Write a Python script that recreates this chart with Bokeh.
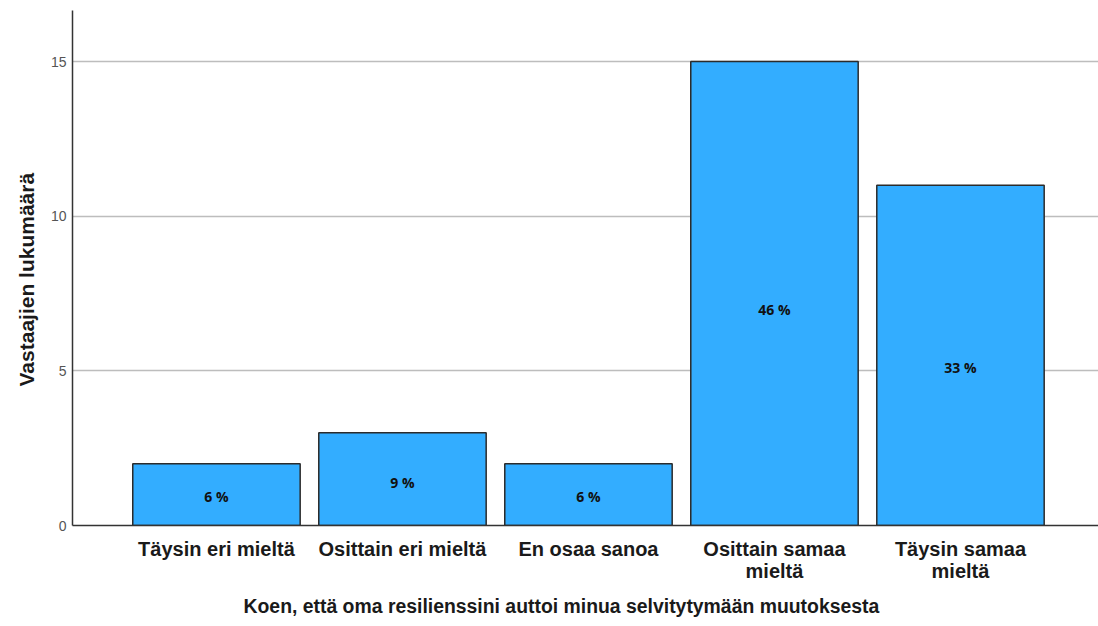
from bokeh.plotting import figure
from bokeh.models import ColumnDataSource, Range1d, FixedTicker, LabelSet, Title
from bokeh.core.properties import value
from bokeh.embed import file_html
from bokeh.resources import INLINE

# Answer categories, respondent counts and the share of each answer
categories = [
    "Täysin eri mieltä",
    "Osittain eri mieltä",
    "En osaa sanoa",
    "Osittain samaa\nmieltä",
    "Täysin samaa\nmieltä",
]
counts = [2, 3, 2, 15, 11]
shares = ["6 %", "9 %", "6 %", "46 %", "33 %"]
y_ticks = [0, 5, 10, 15]

x_title = "Koen, että oma resilienssini auttoi minua selvitytymään muutoksesta"
y_title = "Vastaajien lukumäärä"

positions = list(range(1, len(categories) + 1))
source = ColumnDataSource(dict(
    x=positions,
    count=counts,
    label_y=[c * 0.465 for c in counts],
    share=shares,
))

p = figure(
    width=1098, height=626,
    x_range=Range1d(0.226, 5.742),
    y_range=Range1d(0, 16.65),
    output_backend="svg", toolbar_location=None,
    min_border_left=72, min_border_right=0,
    min_border_top=10, min_border_bottom=101,
)
p.outline_line_color = None
p.background_fill_color = "white"
p.border_fill_color = "white"

p.vbar(x="x", top="count", width=0.9, source=source,
       fill_color="#33ADFF", line_color="#2b2b2b", line_width=1.5)

labels = LabelSet(x="x", y="label_y", text="share", source=source,
                  text_align="center", text_baseline="middle",
                  text_font=value("Open Sans"), text_font_style="bold",
                  text_font_size="14px", text_color="#111111")
p.add_layout(labels)

# x axis: category names under each bar
p.xaxis.ticker = FixedTicker(ticks=positions)
p.xaxis.major_label_overrides = {i: c for i, c in zip(positions, categories)}
p.xaxis.major_label_text_font = "Liberation Sans"
p.xaxis.major_label_text_font_style = "bold"
p.xaxis.major_label_text_font_size = "20px"
p.xaxis.major_label_text_line_height = 1.0
p.xaxis.major_label_text_color = "#1a1a1a"
p.xaxis.major_label_standoff = 12
p.xaxis.major_tick_out = 0
p.xaxis.major_tick_in = 0
p.xaxis.major_tick_line_color = None
p.xaxis.minor_tick_line_color = None
p.xaxis.axis_line_color = "#333333"
p.xaxis.axis_line_width = 1.5

# y axis: respondent count
p.yaxis.ticker = FixedTicker(ticks=y_ticks)
p.yaxis.major_label_text_font = "Liberation Sans"
p.yaxis.major_label_text_font_size = "14px"
p.yaxis.major_label_text_color = "#555555"
p.yaxis.major_label_standoff = 6
p.yaxis.major_tick_out = 0
p.yaxis.major_tick_in = 0
p.yaxis.major_tick_line_color = None
p.yaxis.minor_tick_line_color = None
p.yaxis.axis_line_color = "#333333"
p.yaxis.axis_line_width = 1.5

# axis titles
p.add_layout(Title(text=x_title, align="left", offset=171,
                   text_font="Liberation Sans", text_font_style="bold",
                   text_font_size="19.4px", text_color="#1a1a1a",
                   standoff=17), "below")
p.add_layout(Title(text=y_title, align="left", offset=139,
                   text_font="Liberation Sans", text_font_style="bold",
                   text_font_size="21px", text_color="#1a1a1a",
                   standoff=20), "left")

p.xgrid.grid_line_color = None
p.ygrid.ticker = FixedTicker(ticks=[5, 10, 15])
p.ygrid.grid_line_color = "#bdbdbd"
p.ygrid.grid_line_width = 1.5

open("out.html", "w").write(file_html(p, INLINE))
